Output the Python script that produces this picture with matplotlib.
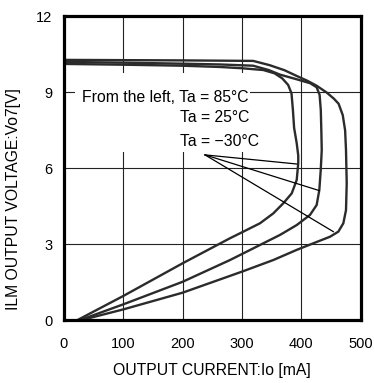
import matplotlib
matplotlib.use("Agg")
import matplotlib.pyplot as plt
from matplotlib.patches import Rectangle

plt.rcParams['font.family'] = ['Liberation Sans', 'DejaVu Sans']

# Output current [mA] / output voltage [V] for each ambient temperature
current_85 = [0, 100, 200, 263, 300, 336, 355, 368, 378, 383.6, 386, 388, 392.4, 395, 395,
              392.4, 384, 369.8, 352.9, 330.5, 302.4, 280, 200, 100, 22]
voltage_85 = [10.12, 10.09, 10.05, 10.0, 9.95, 9.88, 9.75, 9.55, 9.29, 8.96, 8.3, 7.6, 6.99, 6.5, 6.2,
              5.54, 5.01, 4.62, 4.22, 3.83, 3.5, 3.24, 2.25, 0.96, 0]

current_25 = [0, 100, 200, 263, 319, 345, 364, 390, 415, 426, 431, 433, 434, 434.6, 432.9,
              430.5, 426, 414.8, 392.4, 364.2, 336.1, 308.1, 280, 200, 100, 26]
voltage_25 = [10.20, 10.17, 10.13, 10.1, 10.05, 9.88, 9.7, 9.53, 9.36, 9.2, 8.9, 8.3, 7.4, 6.72, 5.93,
              5.14, 4.55, 4.16, 3.76, 3.37, 3.04, 2.71, 2.38, 1.52, 0.63, 0]

current_m30 = [0, 100, 200, 319, 347, 372, 392, 410, 426, 443, 455, 463, 470, 474, 475.5, 476.7,
               475.5, 471, 462.6, 448.6, 420.4, 392.4, 353, 300, 200, 100, 28]
voltage_m30 = [10.28, 10.27, 10.26, 10.24, 10.07, 9.87, 9.65, 9.46, 9.26, 8.99, 8.75, 8.55, 8.1, 7.5, 6.72, 5.41,
               4.35, 3.83, 3.5, 3.3, 3.04, 2.78, 2.38, 1.92, 1.09, 0.43, 0]

series = [(current_85, voltage_85), (current_25, voltage_25), (current_m30, voltage_m30)]

# Leader lines: common origin and the point each one touches on its curve
leader_origin = (237.8, 6.53)
leader_current = [392.4, 430.5, 454.1]
leader_voltage = [6.17, 5.12, 3.5]

label_lines = ["From the left, Ta = 85°C", "Ta = 25°C", "Ta = \u221230°C"]

x_ticks = [0, 100, 200, 300, 400, 500]
y_ticks = [0, 3, 6, 9, 12]

fig = plt.figure(figsize=(3.74, 3.83), dpi=100)
ax = fig.add_axes([0.171, 0.1637, 0.793, 0.7937])

ax.set_xlim(0, 500)
ax.set_ylim(0, 12)
ax.set_xticks(x_ticks)
ax.set_yticks(y_ticks)
ax.tick_params(length=0, labelsize=10.5)
ax.tick_params(axis='x', pad=12)
ax.tick_params(axis='y', pad=8.5)
ax.grid(True, color='#222222', linewidth=0.8)
ax.set_axisbelow(True)
for sp in ax.spines.values():
    sp.set_linewidth(2.3)
    sp.set_color('black')
    sp.set_zorder(5)

# white panel behind the temperature notes
ax.add_patch(Rectangle((18.5, 6.64), 295, 3.12, facecolor='white', edgecolor='none', zorder=1.5))

for cur, vol in series:
    ax.plot(cur, vol, color='#2b2b2b', linewidth=1.7, solid_joinstyle='round', zorder=3)

for cx, cy in zip(leader_current, leader_voltage):
    ax.plot([leader_origin[0], cx], [leader_origin[1], cy], color='black', linewidth=0.9, zorder=3)

ax.text(30.4, 8.63, label_lines[0], fontsize=11.3, va='baseline', ha='left', zorder=4)
ax.text(195.6, 7.82, label_lines[1], fontsize=11.3, va='baseline', ha='left', zorder=4)
ax.text(195.6, 6.89, label_lines[2], fontsize=11.3, va='baseline', ha='left', zorder=4)

fig.text(212 / 374, 1 - 371 / 383, "OUTPUT CURRENT:Io [mA]", fontsize=11.3, ha='center', va='center')
fig.text(14 / 374, 1 - 199.5 / 383, "ILM OUTPUT VOLTAGE:Vo7[V]", fontsize=11.3,
         ha='center', va='center', rotation=90)

fig.savefig("out.png", dpi=100)
